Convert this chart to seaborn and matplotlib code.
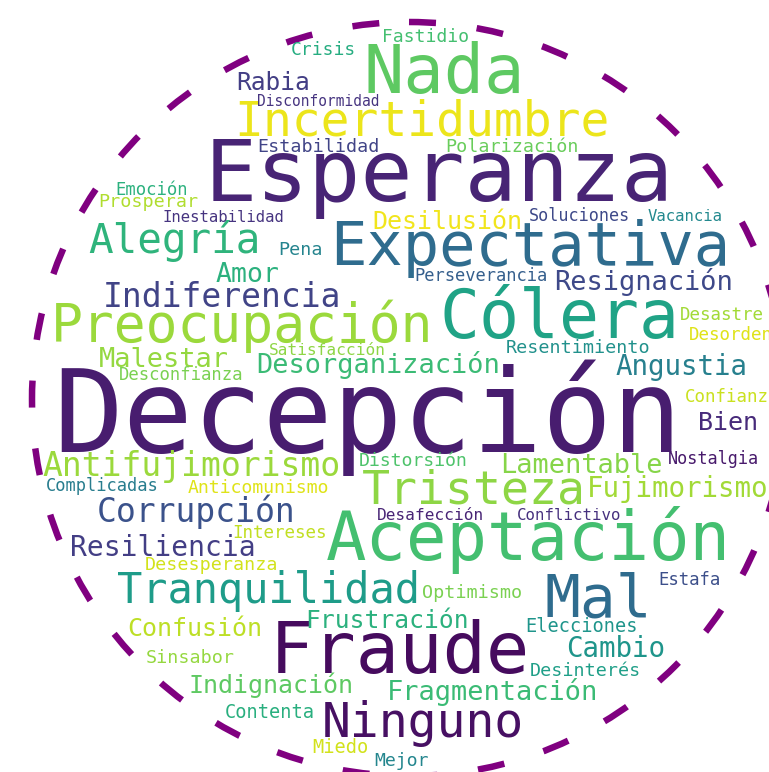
import numpy as np
import matplotlib
matplotlib.use("Agg")
import matplotlib.pyplot as plt
import seaborn as sns
from matplotlib.patches import Circle

sns.set_theme(style="white")
plt.rcParams['font.family'] = ['DejaVu Sans Mono', 'DejaVu Sans']

# ── words of the cloud ───────────────────────────────────────
words = ['Decepción', 'Esperanza', 'Fraude', 'Aceptación', 'Cólera', 'Nada',
         'Expectativa', 'Mal', 'Preocupación', 'Incertidumbre', 'Ninguno',
         'Tristeza', 'Tranquilidad', 'Alegría', 'Antifujimorismo',
         'Indiferencia', 'Corrupción', 'Resiliencia', 'Fujimorismo',
         'Desorganización', 'Fragmentación', 'Lamentable', 'Resignación',
         'Angustia', 'Cambio', 'Malestar', 'Amor', 'Desilusión', 'Confusión',
         'Frustración', 'Indignación', 'Bien', 'Rabia', 'Polarización',
         'Estabilidad', 'Disconformidad', 'Crisis', 'Fastidio', 'Emoción',
         'Prosperar', 'Inestabilidad', 'Pena', 'Soluciones', 'Vacancia',
         'Perseverancia', 'Satisfacción', 'Desconfianza', 'Resentimiento',
         'Desastre', 'Desorden', 'Confianza', 'Nostalgia', 'Distorsión',
         'Complicadas', 'Anticomunismo', 'Desafección', 'Conflictivo',
         'Intereses', 'Desesperanza', 'Optimismo', 'Estafa', 'Elecciones',
         'Sinsabor', 'Desinterés', 'Contenta', 'Miedo', 'Mejor']

# font size of each word in pixels (word weight)
weights = [116, 86.5, 72, 67.3, 66.5, 67,
           60.5, 59.5, 53, 48, 48,
           46.5, 42, 41, 33,
           33, 33, 28, 27.5,
           27, 27, 27, 27,
           27.5, 27.5, 27, 26.5, 25, 25,
           24.6, 25, 25, 24.5, 18.4,
           18.4, 14.5, 18, 18, 17.2,
           18.4, 15.6, 18.4, 16.7, 15.6,
           17.1, 16.1, 17.2, 18.4,
           17.5, 17.5, 17.5, 16.8, 18.2,
           17, 18.2, 16.1, 15.8,
           17.5, 18.4, 18.4, 17.3, 18.6,
           18.4, 18.4, 18.6, 18.6, 18.2]

# position on the viridis scale
shade = [0.08, 0.10, 0.03, 0.70, 0.58, 0.75,
         0.35, 0.35, 0.85, 0.97, 0.04,
         0.83, 0.55, 0.65, 0.85,
         0.20, 0.25, 0.18, 0.86,
         0.68, 0.68, 0.82, 0.22,
         0.43, 0.52, 0.84, 0.64, 0.98, 0.90,
         0.64, 0.75, 0.12, 0.18, 0.77,
         0.20, 0.15, 0.62, 0.70, 0.64,
         0.88, 0.15, 0.45, 0.22, 0.47,
         0.30, 0.83, 0.80, 0.50,
         0.86, 0.95, 0.92, 0.07, 0.72,
         0.42, 0.95, 0.10, 0.14,
         0.91, 0.93, 0.80, 0.24, 0.52,
         0.84, 0.56, 0.63, 0.93, 0.46]

# ── layout of the cloud (word centre x, baseline y, in pixels) ─
layout_x = [368, 439, 399.5, 528, 560, 444,
            530, 598, 242, 421.5, 422.5,
            474, 269, 174, 191,
            222.5, 196.5, 163, 678,
            378.5, 492, 581, 644,
            681.5, 615.5, 163.5, 248, 447, 195,
            387.5, 271, 727.5, 273, 512,
            318, 318, 323.5, 425, 152,
            148.5, 223, 301, 580, 685.5,
            481.5, 327, 181, 578,
            722, 731, 732, 713, 413.5,
            102, 258, 430, 569,
            280, 212, 472.5, 689, 581.5,
            190, 585, 269.5, 340, 401]
layout_y = [452, 201, 673, 560, 338, 93,
            265, 617, 342, 135, 737,
            503, 603, 253, 476,
            307, 522, 556, 497,
            373, 700, 473, 290,
            375, 657, 367, 282, 229, 636,
            628, 693, 430, 90, 152,
            152, 106, 55, 42, 195,
            207, 222, 255, 221, 221,
            281, 355, 380, 353,
            320, 340, 402, 464, 466,
            491, 493, 520, 520,
            538, 570, 598, 585, 632,
            663, 676, 718, 753, 766]

W, H = 769, 772
fig = plt.figure(figsize=(W / 100, H / 100), dpi=100)
ax = fig.add_axes([0, 0, 1, 1])
ax.set_xlim(0, W)
ax.set_ylim(H, 0)
ax.axis('off')

cmap = sns.color_palette("viridis", as_cmap=True)
for w, s, c, x, y in zip(words, weights, shade, layout_x, layout_y):
    ax.text(x, y, w, fontsize=s * 0.72, color=cmap(c),
            ha='center', va='baseline')

# dashed circle around the cloud
lw = 6.5
ring = Circle((409, 399), 377, fill=False, edgecolor='purple',
              linewidth=lw * 0.72,
              linestyle=(0, (27 / lw, 41 / lw)))
ax.add_patch(ring)

fig.savefig("out.png", dpi=100, facecolor='white')
